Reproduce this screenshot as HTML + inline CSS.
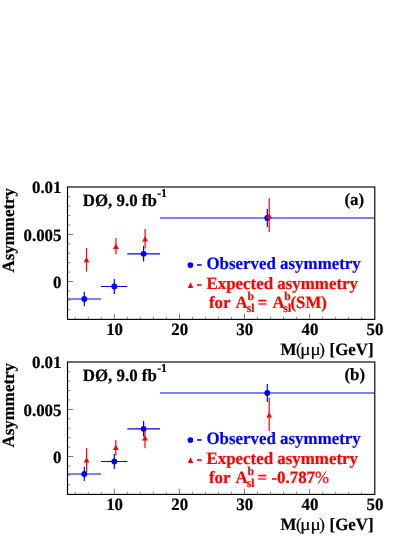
<!DOCTYPE html>
<html><head><meta charset="utf-8"><title>Asymmetry</title>
<style>
html,body{margin:0;padding:0;background:#fff;}
body{width:415px;height:537px;overflow:hidden;font-family:"Liberation Serif",serif;}
svg{display:block;will-change:transform;}
svg text{font-family:"Liberation Serif",serif;font-weight:bold;font-size:16.9px;text-rendering:geometricPrecision;stroke-width:0.2px;}
</style></head><body>
<svg width="415" height="537" viewBox="0 0 415 537">
<rect width="415" height="537" fill="#fff"/>
<g transform="translate(0,0)">
<path d="M68.00 281.50h5.2 M68.00 234.40h5.2 M114.30 318.90v-5 M179.40 318.90v-5 M244.50 318.90v-5 M309.60 318.90v-5" stroke="#000" stroke-opacity="0.55" stroke-width="1" fill="none"/>
<path d="M68.00 309.76h2.4 M68.00 300.34h2.4 M68.00 290.92h2.4 M68.00 272.08h2.4 M68.00 262.66h2.4 M68.00 253.24h2.4 M68.00 243.82h2.4 M68.00 224.98h2.4 M68.00 215.56h2.4 M68.00 206.14h2.4 M68.00 196.72h2.4 M75.24 318.90v-2.2 M88.26 318.90v-2.2 M101.28 318.90v-2.2 M127.32 318.90v-2.2 M140.34 318.90v-2.2 M153.36 318.90v-2.2 M166.38 318.90v-2.2 M192.42 318.90v-2.2 M205.44 318.90v-2.2 M218.46 318.90v-2.2 M231.48 318.90v-2.2 M257.52 318.90v-2.2 M270.54 318.90v-2.2 M283.56 318.90v-2.2 M296.58 318.90v-2.2 M322.62 318.90v-2.2 M335.64 318.90v-2.2 M348.66 318.90v-2.2 M361.68 318.90v-2.2" stroke="#000" stroke-opacity="0.45" stroke-width="1" fill="none"/>
<rect x="67.5" y="187.0" width="307.30" height="132.40" fill="none" stroke="#000" stroke-width="1.15"/>
<path d="M67.50 299.00H101.00M84.30 291.70V306.00" stroke="#0000ff" stroke-width="1.2" fill="none"/>
<circle cx="84.30" cy="299.00" r="2.95" fill="#0000ff"/>
<path d="M101.00 286.50H127.30M114.30 279.00V293.90" stroke="#0000ff" stroke-width="1.2" fill="none"/>
<circle cx="114.30" cy="286.50" r="2.95" fill="#0000ff"/>
<path d="M127.30 253.85H159.90M143.60 245.90V261.50" stroke="#0000ff" stroke-width="1.2" fill="none"/>
<circle cx="143.60" cy="253.85" r="2.95" fill="#0000ff"/>
<path d="M159.90 218.00H374.80M267.30 208.90V227.10" stroke="#0000ff" stroke-width="1.2" fill="none"/>
<circle cx="267.30" cy="218.00" r="2.95" fill="#0000ff"/>
<path d="M86.50 248.00V271.70" stroke="#ff0000" stroke-width="1.2" fill="none"/>
<path d="M83.60 262.30L89.40 262.30L86.50 257.00Z" fill="#ff0000"/>
<path d="M115.90 237.90V254.20" stroke="#ff0000" stroke-width="1.2" fill="none"/>
<path d="M113.00 248.90L118.80 248.90L115.90 243.60Z" fill="#ff0000"/>
<path d="M145.10 228.90V248.50" stroke="#ff0000" stroke-width="1.2" fill="none"/>
<path d="M142.20 241.40L148.00 241.40L145.10 236.10Z" fill="#ff0000"/>
<path d="M269.20 198.30V232.00" stroke="#ff0000" stroke-width="1.2" fill="none"/>
<path d="M266.30 218.60L272.10 218.60L269.20 213.30Z" fill="#ff0000"/>
<text transform="translate(61.50 193.40) scale(1 1.02)" text-anchor="end" fill="#000" stroke="#000">0.01</text>
<text transform="translate(61.50 240.50) scale(1 1.02)" text-anchor="end" fill="#000" stroke="#000">0.005</text>
<text transform="translate(61.50 287.60) scale(1 1.02)" text-anchor="end" fill="#000" stroke="#000">0</text>
<text transform="translate(114.60 335.00) scale(1 1.02)" text-anchor="middle" fill="#000" stroke="#000">10</text>
<text transform="translate(179.70 335.00) scale(1 1.02)" text-anchor="middle" fill="#000" stroke="#000">20</text>
<text transform="translate(244.80 335.00) scale(1 1.02)" text-anchor="middle" fill="#000" stroke="#000">30</text>
<text transform="translate(309.90 335.00) scale(1 1.02)" text-anchor="middle" fill="#000" stroke="#000">40</text>
<text transform="translate(375.00 335.00) scale(1 1.02)" text-anchor="middle" fill="#000" stroke="#000">50</text>
<text transform="translate(280.60 354.80) scale(1 1.02)" fill="#000" stroke="#000">M</text>
<text transform="translate(296.10 354.80) scale(1 1.02)" fill="#000" stroke="#000" style="font-weight:normal">(</text>
<text transform="translate(300.30 354.80) scale(1.13 1.02)" fill="#000" stroke="#000" style="font-weight:normal">μμ</text>
<text transform="translate(319.20 354.80) scale(1 1.02)" fill="#000" stroke="#000" style="font-weight:normal">)</text>
<text transform="translate(373.60 354.80) scale(1 1.02)" text-anchor="end" fill="#000" stroke="#000" font-size="16.1">[GeV]</text>
<text transform="translate(13.50 188.00) rotate(-90) scale(1 1.02)" text-anchor="end" fill="#000" stroke="#000">Asymmetry</text>
<text transform="translate(82.70 205.90) scale(1 1.02)" fill="#000" stroke="#000">DØ, 9.0 fb<tspan font-size="11.8" dy="-8.43" dx="0.3">-1</tspan></text>
<text transform="translate(344.40 204.80) scale(1 1.02)" fill="#000" stroke="#000">(a)</text>
<circle cx="190.4" cy="265.1" r="2.85" fill="#0000ff"/>
<text transform="translate(196.60 268.90) scale(1 1.02)" fill="#0000ff" stroke="#0000ff">- Observed asymmetry</text>
<path d="M187.7 287.9L193.3 287.9L190.5 282.3Z" fill="#ff0000"/>
<text transform="translate(196.60 288.70) scale(1 1.02)" fill="#ff0000" stroke="#ff0000">- Expected asymmetry</text>
<text transform="translate(209.00 308.20) scale(1 1.02)" fill="#ff0000" stroke="#ff0000">for<tspan x="26.4">A</tspan><tspan font-size="11.8" x="37.7" y="3.43">sl</tspan><tspan font-size="11.8" x="38.6" y="-8.14">b</tspan><tspan x="48.6" y="0">=</tspan><tspan x="63.6">A</tspan><tspan font-size="11.8" x="74.3" y="3.43">sl</tspan><tspan font-size="11.8" x="75.2" y="-8.14">b</tspan><tspan x="81.4" y="0">(SM)</tspan></text>
</g>
<g transform="translate(0,175)">
<path d="M68.00 281.50h5.2 M68.00 234.40h5.2 M114.30 318.90v-5 M179.40 318.90v-5 M244.50 318.90v-5 M309.60 318.90v-5" stroke="#000" stroke-opacity="0.55" stroke-width="1" fill="none"/>
<path d="M68.00 309.76h2.4 M68.00 300.34h2.4 M68.00 290.92h2.4 M68.00 272.08h2.4 M68.00 262.66h2.4 M68.00 253.24h2.4 M68.00 243.82h2.4 M68.00 224.98h2.4 M68.00 215.56h2.4 M68.00 206.14h2.4 M68.00 196.72h2.4 M75.24 318.90v-2.2 M88.26 318.90v-2.2 M101.28 318.90v-2.2 M127.32 318.90v-2.2 M140.34 318.90v-2.2 M153.36 318.90v-2.2 M166.38 318.90v-2.2 M192.42 318.90v-2.2 M205.44 318.90v-2.2 M218.46 318.90v-2.2 M231.48 318.90v-2.2 M257.52 318.90v-2.2 M270.54 318.90v-2.2 M283.56 318.90v-2.2 M296.58 318.90v-2.2 M322.62 318.90v-2.2 M335.64 318.90v-2.2 M348.66 318.90v-2.2 M361.68 318.90v-2.2" stroke="#000" stroke-opacity="0.45" stroke-width="1" fill="none"/>
<rect x="67.5" y="187.0" width="307.30" height="132.40" fill="none" stroke="#000" stroke-width="1.15"/>
<path d="M86.60 273.30V297.30" stroke="#ff0000" stroke-width="1.2" fill="none"/>
<path d="M83.70 287.60L89.50 287.60L86.60 282.30Z" fill="#ff0000"/>
<path d="M115.80 264.90V280.50" stroke="#ff0000" stroke-width="1.2" fill="none"/>
<path d="M112.90 275.10L118.70 275.10L115.80 269.80Z" fill="#ff0000"/>
<path d="M145.00 253.90V273.30" stroke="#ff0000" stroke-width="1.2" fill="none"/>
<path d="M142.10 265.60L147.90 265.60L145.00 260.30Z" fill="#ff0000"/>
<path d="M269.20 222.50V256.00" stroke="#ff0000" stroke-width="1.2" fill="none"/>
<path d="M266.30 242.50L272.10 242.50L269.20 237.20Z" fill="#ff0000"/>
<path d="M67.50 299.00H101.00M84.30 291.70V306.00" stroke="#0000ff" stroke-width="1.2" fill="none"/>
<circle cx="84.30" cy="299.00" r="2.95" fill="#0000ff"/>
<path d="M101.00 286.50H127.30M114.30 279.00V293.90" stroke="#0000ff" stroke-width="1.2" fill="none"/>
<circle cx="114.30" cy="286.50" r="2.95" fill="#0000ff"/>
<path d="M127.30 253.85H159.90M143.60 245.90V261.50" stroke="#0000ff" stroke-width="1.2" fill="none"/>
<circle cx="143.60" cy="253.85" r="2.95" fill="#0000ff"/>
<path d="M159.90 218.00H374.80M267.30 208.90V227.10" stroke="#0000ff" stroke-width="1.2" fill="none"/>
<circle cx="267.30" cy="218.00" r="2.95" fill="#0000ff"/>
<text transform="translate(61.50 193.40) scale(1 1.02)" text-anchor="end" fill="#000" stroke="#000">0.01</text>
<text transform="translate(61.50 240.50) scale(1 1.02)" text-anchor="end" fill="#000" stroke="#000">0.005</text>
<text transform="translate(61.50 287.60) scale(1 1.02)" text-anchor="end" fill="#000" stroke="#000">0</text>
<text transform="translate(114.60 335.00) scale(1 1.02)" text-anchor="middle" fill="#000" stroke="#000">10</text>
<text transform="translate(179.70 335.00) scale(1 1.02)" text-anchor="middle" fill="#000" stroke="#000">20</text>
<text transform="translate(244.80 335.00) scale(1 1.02)" text-anchor="middle" fill="#000" stroke="#000">30</text>
<text transform="translate(309.90 335.00) scale(1 1.02)" text-anchor="middle" fill="#000" stroke="#000">40</text>
<text transform="translate(375.00 335.00) scale(1 1.02)" text-anchor="middle" fill="#000" stroke="#000">50</text>
<text transform="translate(280.60 354.80) scale(1 1.02)" fill="#000" stroke="#000">M</text>
<text transform="translate(296.10 354.80) scale(1 1.02)" fill="#000" stroke="#000" style="font-weight:normal">(</text>
<text transform="translate(300.30 354.80) scale(1.13 1.02)" fill="#000" stroke="#000" style="font-weight:normal">μμ</text>
<text transform="translate(319.20 354.80) scale(1 1.02)" fill="#000" stroke="#000" style="font-weight:normal">)</text>
<text transform="translate(373.60 354.80) scale(1 1.02)" text-anchor="end" fill="#000" stroke="#000" font-size="16.1">[GeV]</text>
<text transform="translate(13.50 188.00) rotate(-90) scale(1 1.02)" text-anchor="end" fill="#000" stroke="#000">Asymmetry</text>
<text transform="translate(82.70 205.90) scale(1 1.02)" fill="#000" stroke="#000">DØ, 9.0 fb<tspan font-size="11.8" dy="-8.43" dx="0.3">-1</tspan></text>
<text transform="translate(344.40 204.80) scale(1 1.02)" fill="#000" stroke="#000">(b)</text>
<circle cx="190.4" cy="265.1" r="2.85" fill="#0000ff"/>
<text transform="translate(196.60 268.90) scale(1 1.02)" fill="#0000ff" stroke="#0000ff">- Observed asymmetry</text>
<path d="M187.7 287.9L193.3 287.9L190.5 282.3Z" fill="#ff0000"/>
<text transform="translate(196.60 288.70) scale(1 1.02)" fill="#ff0000" stroke="#ff0000">- Expected asymmetry</text>
<text transform="translate(209.00 308.20) scale(1 1.02)" fill="#ff0000" stroke="#ff0000">for<tspan x="26.4">A</tspan><tspan font-size="11.8" x="37.7" y="3.43">sl</tspan><tspan font-size="11.8" x="38.6" y="-8.14">b</tspan><tspan x="48.6" y="0">= -0.787<tspan style="font-weight:normal">%</tspan></tspan></text>
</g>
</svg>
</body></html>
